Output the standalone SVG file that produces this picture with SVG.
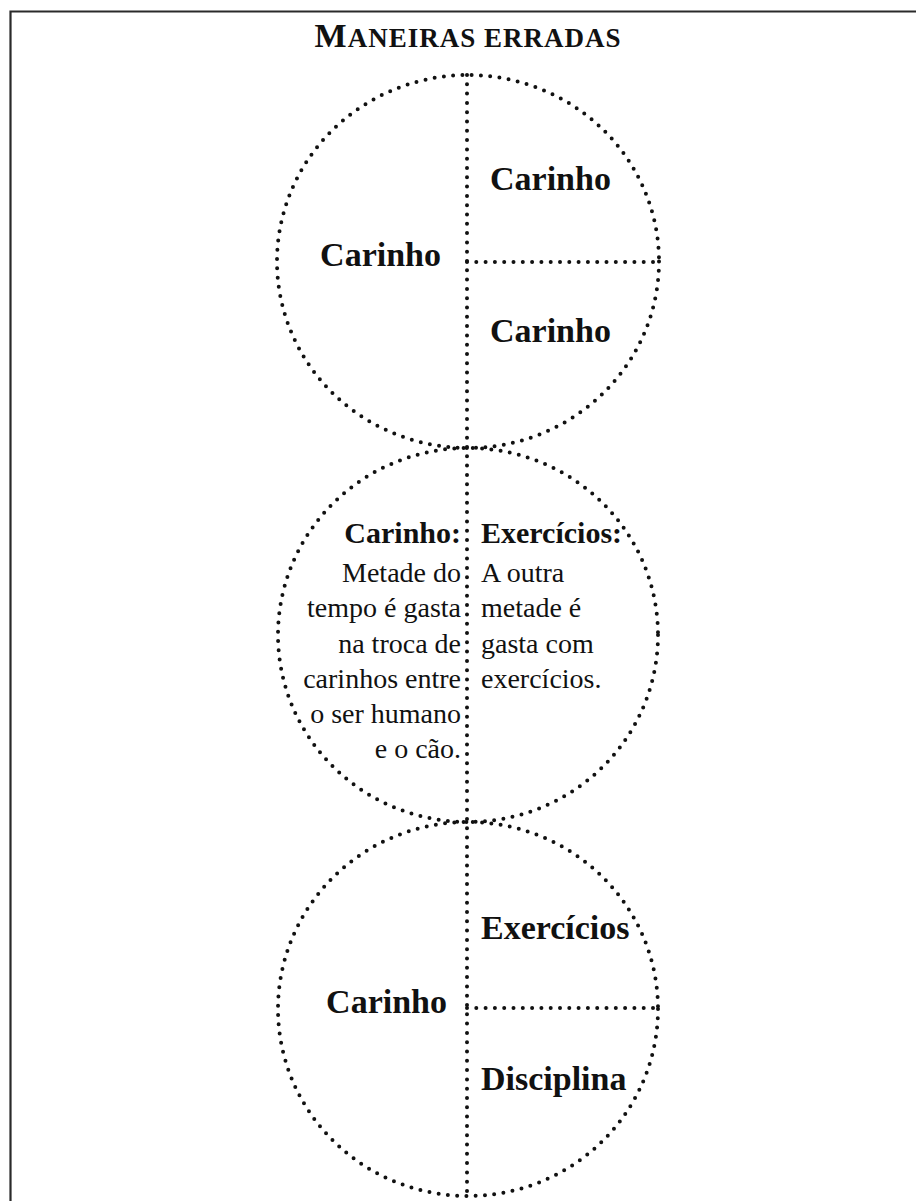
<svg xmlns="http://www.w3.org/2000/svg" width="916" height="1201" viewBox="0 0 916 1201">
<style>
.dot{fill:none;stroke:#111;stroke-width:4;stroke-linecap:round;stroke-dasharray:0 9.3}
.b{font-family:"Liberation Serif","Times New Roman",serif;font-weight:bold;fill:#111}
.r{font-family:"Liberation Serif","Times New Roman",serif;font-size:28px;fill:#111}
.big{font-size:34px}
.mid{font-size:30px}
</style>
<rect width="916" height="1201" fill="#fff"/>
<g id="frame" fill="none" stroke="#2a2a2a" stroke-width="2.2">
<path d="M10.5 1201 V11.5 H916"/>
</g>
<g id="title">
<text class="b" x="468" y="47" text-anchor="middle" font-size="34" letter-spacing="1">M<tspan font-size="27">ANEIRAS ERRADAS</tspan></text>
</g>
<g id="circle-top">
<ellipse class="dot" cx="468" cy="261.5" rx="191" ry="186.5"/>
<text class="b big" x="441" y="266" text-anchor="end">Carinho</text>
<text class="b big" x="490" y="190">Carinho</text>
<text class="b big" x="490" y="342">Carinho</text>
</g>
<g id="circle-middle">
<ellipse class="dot" cx="468" cy="635" rx="190" ry="187"/>
<text class="b mid" x="461" y="543" text-anchor="end">Carinho:</text>
<text class="b mid" x="481" y="543">Exercícios:</text>
<text class="r" x="461" text-anchor="end"><tspan x="461" y="582">Metade do</tspan><tspan x="461" y="617">tempo é gasta</tspan><tspan x="461" y="653">na troca de</tspan><tspan x="461" y="688">carinhos entre</tspan><tspan x="461" y="723">o ser humano</tspan><tspan x="461" y="758">e o cão.</tspan></text>
<text class="r"><tspan x="481" y="582">A outra</tspan><tspan x="481" y="617">metade é</tspan><tspan x="481" y="653">gasta com</tspan><tspan x="481" y="688">exercícios.</tspan></text>
</g>
<g id="circle-bottom">
<ellipse class="dot" cx="468" cy="1009" rx="190" ry="187"/>
<text class="b big" x="447" y="1013" text-anchor="end">Carinho</text>
<text class="b big" x="481" y="939">Exercícios</text>
<text class="b big" x="481" y="1090">Disciplina</text>
</g>
<g id="connectors">
<path class="dot" d="M467 75 V1196"/>
<path class="dot" d="M467 262 H661"/>
<path class="dot" d="M467 1008 H659"/>
</g>
</svg>
